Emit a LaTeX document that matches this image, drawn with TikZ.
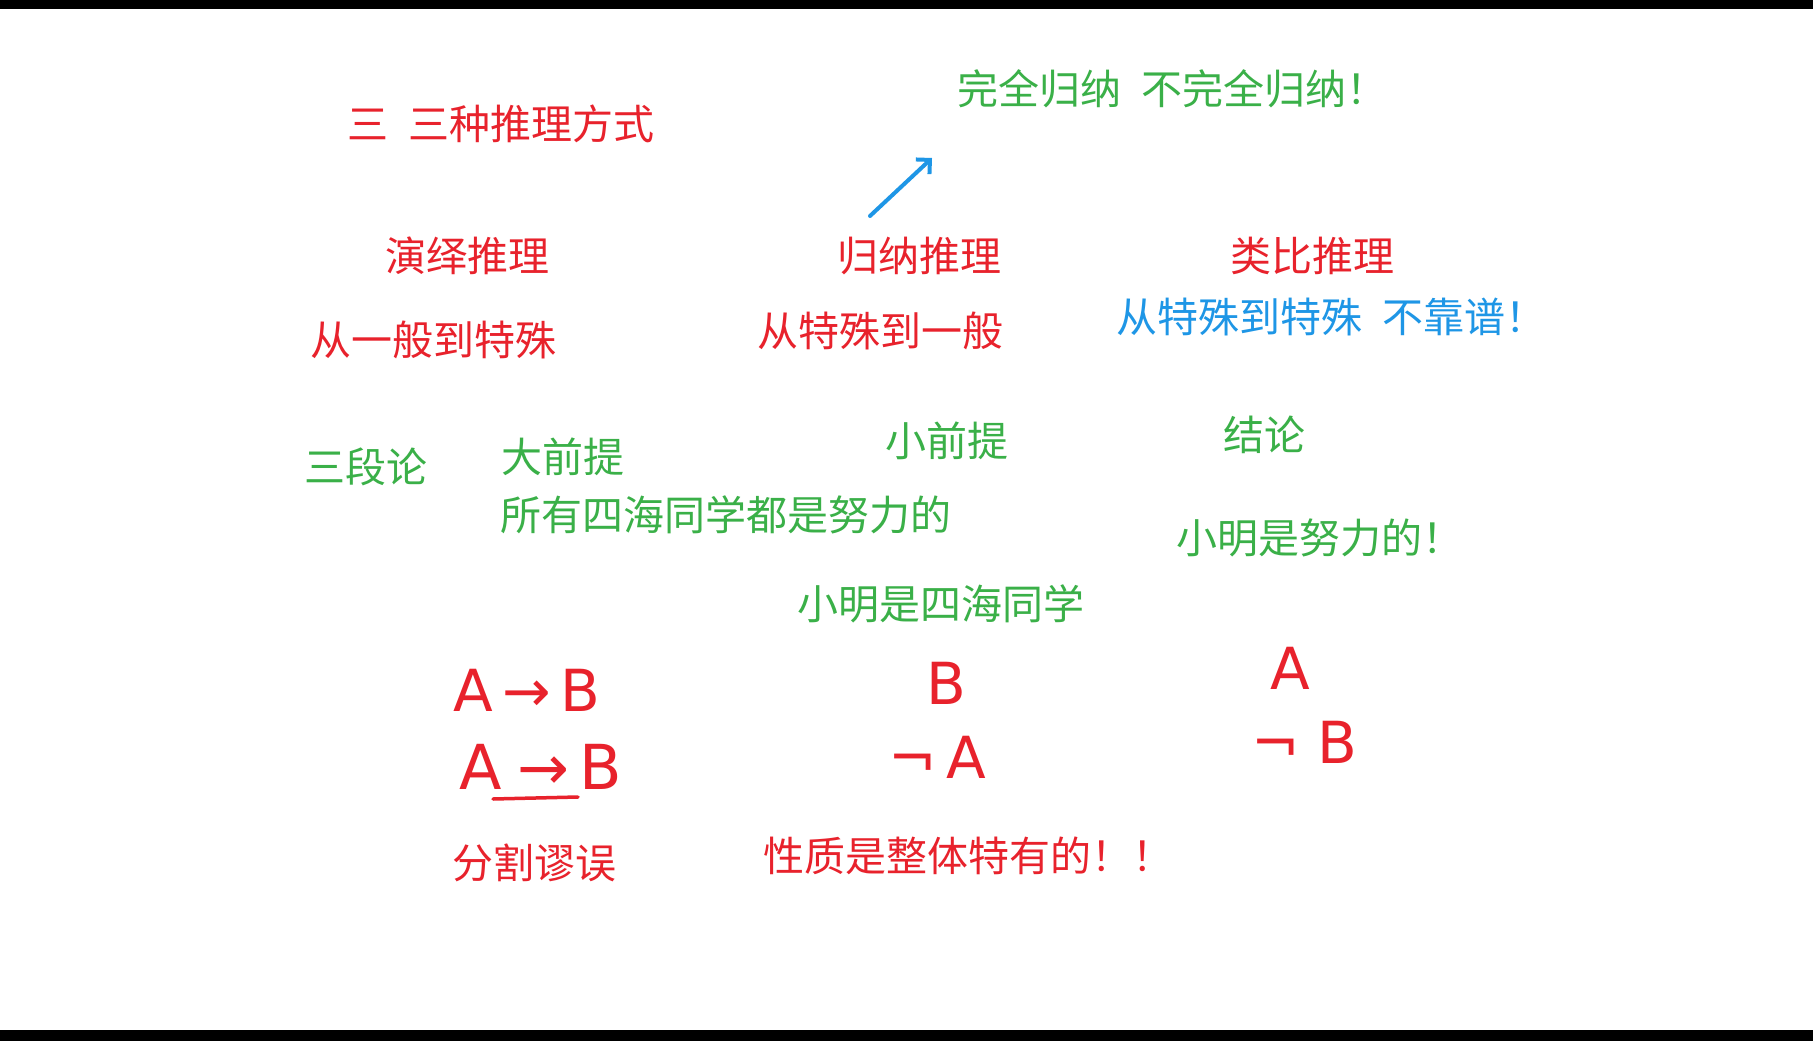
\documentclass[tikz,border=0pt]{standalone}
\usepackage{fontspec}
\newfontfamily\cjk{Noto Sans CJK SC}
\newfontfamily\hw{DejaVu Sans}
\usetikzlibrary{arrows.meta}

\definecolor{inkred}{RGB}{232,34,44}
\definecolor{inkgreen}{RGB}{58,176,72}
\definecolor{inkblue}{RGB}{30,150,230}

\begin{document}
\begin{tikzpicture}[x=1pt, y=-1pt,
      redtxt/.style={text=inkred, font=\cjk\fontsize{41}{48}\selectfont, inner sep=0pt, anchor=west},
      greentxt/.style={text=inkgreen, font=\cjk\fontsize{41}{48}\selectfont, inner sep=0pt, anchor=west},
      bluetxt/.style={text=inkblue, font=\cjk\fontsize{41}{48}\selectfont, inner sep=0pt, anchor=west},
      hand/.style={text=inkred, font=\hw\fontsize{58}{64}\selectfont, inner sep=0pt},
      handline/.style={draw=inkred, line width=3.5pt, line cap=round},
    ]
      \useasboundingbox (0,0) rectangle (1813,1041);
      \fill[white] (0,0) rectangle (1813,1041);
      \fill[black] (0,0) rectangle (1813,9);
      \fill[black] (0,1030) rectangle (1813,1041);

      \node[redtxt] (title) at (347,124) {三\hspace{0.5em}三种推理方式};
      \node[greentxt] (induct) at (957,89) {完全归纳\hspace{0.5em}不完全归纳！};

      \node[redtxt] (deduce) at (385,256) {演绎推理};
      \node[redtxt] (induce) at (837,256) {归纳推理};
      \node[redtxt] (analog) at (1230,256) {类比推理};

      \node[redtxt] (gentospec) at (310,340) {从一般到特殊};
      \node[redtxt] (spectogen) at (757,331) {从特殊到一般};
      \node[bluetxt] (spectospec) at (1116,317) {从特殊到特殊\hspace{0.5em}不靠谱！};

      \node[greentxt] (syllog) at (304,467) {三段论};
      \node[greentxt] (major) at (501,457) {大前提};
      \node[greentxt] (majortxt) at (500,515) {所有四海同学都是努力的};
      \node[greentxt] (minor) at (885,441) {小前提};
      \node[greentxt] (minortxt) at (797,604) {小明是四海同学};
      \node[greentxt] (concl) at (1223,435) {结论};
      \node[greentxt] (concltxt) at (1176,538) {小明是努力的！};

      \node[hand] (abone) at (527,690) {A\,→\,B};
      \node[hand, font=\hw\fontsize{62}{68}\selectfont] (abtwo) at (541,767) {A\hspace{0.25em}→\,B};
      \node[hand] (bmid) at (946,683) {B};
      \node[hand] (notamid) at (937,757) {¬\,A};
      \node[hand] (aright) at (1290,668) {A};
      \node[hand] (notbright) at (1304,742) {¬\hspace{0.3em}B};

      \node[redtxt] (fallacy) at (452,863) {分割谬误};
      \node[redtxt] (whole) at (763,856) {性质是整体特有的！！};

      % underline of the second A->B
      \coordinate (ulstart) at (493,799);
      \coordinate (ulend) at (578,797);
      \draw[handline] (ulstart) -- (ulend);

      % arrow up to the two kinds of induction
      \coordinate (arrtail) at (870,216);
      \coordinate (arrhead) at (932,158);
      \draw[draw=inkblue, line width=4pt, line cap=round, -{Straight Barb[length=10pt]}] (arrtail) -- (arrhead);
    \end{tikzpicture}
\end{document}
